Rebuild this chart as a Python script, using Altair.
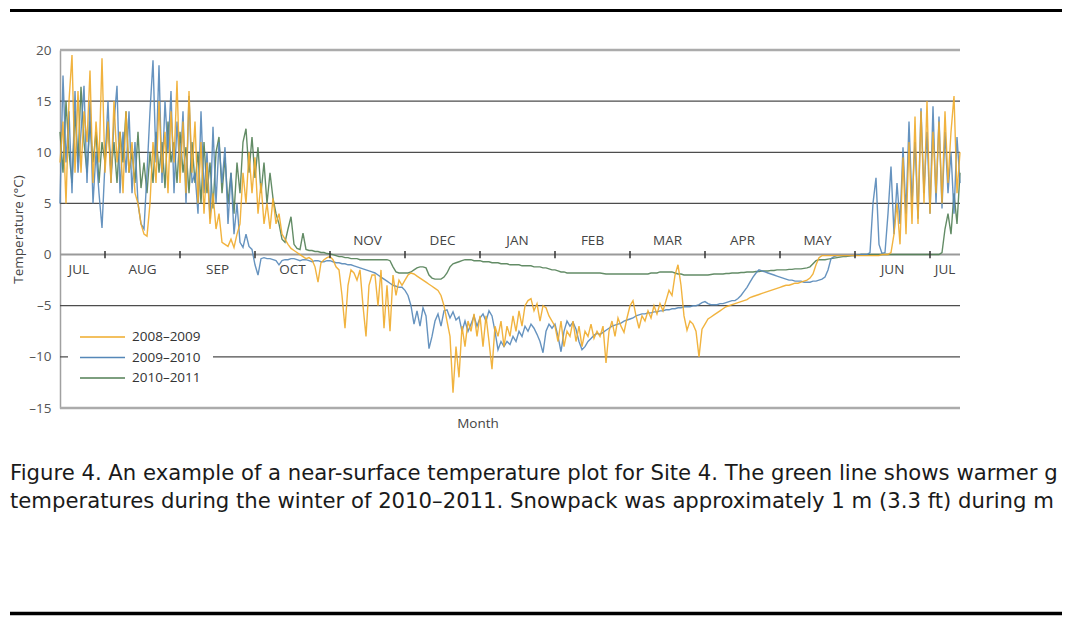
import altair as alt
import pandas as pd

SERIES = ["2008–2009", "2009–2010", "2010–2011"]
COLORS = ["#EFAB2A", "#5587B8", "#527F55"]

# readings every STEP months, first reading at START (Aug 1 = 1.0 on the month axis)
START, STEP = 0.4, 0.04

T_0809 = [
    9, 13, 5, 15, 19.5, 8, 16, 8, 14, 11, 18, 7, 13, 9, 19.2,
    8, 13, 7, 15, 9, 12, 6, 14, 8, 11, 6, 5, 3, 2, 1.8,
    5, 11, 7, 15, 8, 12, 6, 14, 9, 17, 7, 13, 6, 16, 8,
    13, 5, 11, 4, 9, 3, 6, 2.5, 4, 1.2, 1, 0.8, 1.5, 0.7, 2,
    3, 8, 5, 10, 6, 9.5, 4, 7, 3, 5, 2.5, 5.5, 3, 4, 2,
    1.5, 1, 0.6, 0.4, 0.2, 0, -0.2, -0.4, -0.3, -0.5, -1.2, -2.7, -0.8, -0.5, -0.3,
    -0.2, -0.5, -1.2, -1.5, -4, -7.2, -3, -1.5, -1.8, -2.5, -1.5, -5, -8, -3, -2,
    -2, -5, -1.5, -7.2, -3, -7.5, -2, -4, -2.5, -3, -2.5, -2, -1.8, -1.9, -2.1,
    -2.3, -2.5, -2.7, -2.9, -3.1, -3.3, -3.5, -4, -5, -6.5, -8, -13.5, -9, -12, -7,
    -9, -6.5, -7.5, -5.8, -8, -6, -9, -6, -8.5, -11.2, -7, -8, -6.5, -9, -7,
    -8, -6, -7.5, -5.5, -7, -5, -4.5, -4.3, -5.5, -4.8, -6.5, -5, -5.2, -6, -6.5,
    -7, -8.5, -6.5, -9, -7.5, -8, -6.5, -8.5, -7, -9, -7.5, -8, -6.8, -8.2, -7.5,
    -8, -7, -10.6, -7.5, -6.5, -8, -6.2, -7, -7.6, -6.2, -5, -4.5, -6, -7.2, -6,
    -6.5, -5.5, -6.2, -5, -5.8, -4.8, -5.5, -4.5, -3.5, -4, -2, -1, -3, -6, -7.4,
    -6.5, -6.8, -7.5, -10, -7.3, -6.8, -6.3, -6.1, -5.9, -5.7, -5.5, -5.3, -5.1, -5.0, -4.9,
    -4.8, -4.7, -4.6, -4.5, -4.4, -4.2, -4.1, -4.0, -3.9, -3.8, -3.7, -3.6, -3.5, -3.4, -3.3,
    -3.2, -3.1, -3.0, -3.0, -2.9, -2.8, -2.8, -2.7, -2.6, -2.5, -2.3, -1.9, -1.0, -0.3, -0.1,
    -0.1, -0.1, -0.1, -0.1, -0.1, -0.1, -0.1, -0.1, -0.1, -0.1, -0.1, -0.1, -0.1, -0.1, -0.1,
    -0.1, -0.1, -0.1, -0.1, 0, 0, 0, 0.2, 2, 5, 1, 9.5, 2, 11, 3,
    13.5, 3, 14, 5, 15, 4, 12, 6, 13, 5, 14, 7, 12, 15.5, 6,
    10,
]

T_0910 = [
    5, 17.5, 9, 14, 6, 16, 8, 12, 16.5, 7, 15, 5, 10, 6, 2.6,
    9, 15, 7, 13, 16.5, 6, 12, 8, 14, 6, 11, 5, 3, 2.5, 8,
    14, 19, 9, 18.5, 7, 15, 10, 16, 6, 13, 8, 14, 5, 15.5, 7,
    8, 4, 14, 6, 10, 3.5, 12.5, 5, 11, 7, 10.5, 3, 8, 2, 5,
    1.2, 0.7, 2, 0.8, 0.5, -1, -2, -0.4, -0.3, -0.4, -0.4, -0.5, -0.6, -1.0, -0.6,
    -0.5, -0.5, -0.4, -0.4, -0.5, -0.6, -0.5, -0.5, -0.6, -0.7, -0.6, -0.6, -0.7, -0.7, -0.6,
    -0.6, -0.7, -0.8, -0.8, -0.9, -0.9, -1.0, -1.0, -1.1, -1.2, -1.3, -1.4, -1.5, -1.6, -1.7,
    -1.8, -2.0, -2.2, -2.4, -2.6, -2.8, -3.0, -3.1, -3.2, -3.2, -3.5, -4.0, -5.0, -6.8, -5.5,
    -7, -5.2, -6, -9.2, -8, -6.5, -5.8, -7, -5.5, -5.4, -6.2, -5.6, -6.4, -6.1, -7.5,
    -6.5, -7.5, -6.8, -6, -7, -6.2, -5.8, -6.5, -5.5, -6, -7.5, -9.3, -8.5, -9, -8.5,
    -8.8, -8, -8.5, -7.5, -8, -7, -7.5, -6.8, -7.2, -7.8, -8.5, -9.6, -7.5, -6.8, -7.2,
    -6.8, -8, -9.5, -7.5, -6.5, -7, -6.6, -7.3, -8.5, -9.3, -9.0, -8.5, -8.2, -7.9, -7.7,
    -7.8, -7.6, -7.4, -7.2, -7.0, -6.9, -6.8, -6.7, -6.5, -6.4, -6.3, -6.2, -6.0, -5.9, -5.8,
    -5.8, -5.7, -5.7, -5.6, -5.6, -5.5, -5.5, -5.4, -5.4, -5.3, -5.3, -5.2, -5.2, -5.1, -5.1,
    -5.1, -5.0, -5.0, -4.9, -4.7, -4.6, -4.8, -4.9, -4.9, -4.9, -4.8, -4.8, -4.7, -4.6, -4.5,
    -4.5, -4.3, -4.0, -3.6, -3.2, -2.7, -2.2, -1.8, -1.5, -1.6, -1.7, -1.8, -1.9, -2.0, -2.1,
    -2.2, -2.3, -2.4, -2.5, -2.5, -2.6, -2.6, -2.6, -2.7, -2.7, -2.7, -2.6, -2.6, -2.5, -2.4,
    -2.2, -1.5, -0.4, -0.2, -0.1, -0.1, -0.1, -0.1, -0.1, -0.1, -0.1, -0.05, 0, 0, 0,
    0.2, 5, 7.5, 1, 0.1, 0.2, 4, 8.6, 2, 7, 3, 10.5, 4, 13, 5,
    11, 3.5, 14.3, 6, 12, 4, 14.5, 5, 13.5, 4.5, 12, 6, 10, 4, 11.5,
    7,
]

T_1011 = [
    12, 8, 15, 10, 7, 14, 9, 16.4, 11, 8, 13, 9, 12, 7, 11,
    9, 13, 8, 11, 7, 12, 9, 14, 8, 10, 7, 12, 6.5, 9, 6,
    10, 7, 12, 8, 11, 6.5, 13, 9, 11, 7, 12, 8, 10.5, 6, 11,
    7, 10, 5, 11, 6, 9, 4.5, 10, 11.5, 6, 9.5, 5, 8, 4, 9,
    6, 11, 12.3, 8, 11.5, 7.5, 10.5, 6, 9, 5, 8, 5.5, 4, 3, 1.5,
    1.2, 2.5, 3.7, 1, 0.6, 0.5, 2.1, 0.5, 0.4, 0.4, 0.3, 0.3, 0.2, 0.2, 0.1,
    0.05, 0, -0.1, -0.2, -0.2, -0.3, -0.3, -0.4, -0.4, -0.4, -0.5, -0.5, -0.5, -0.5, -0.5,
    -0.5, -0.5, -0.5, -0.5, -0.5, -0.6, -1.2, -1.7, -1.8, -1.8, -1.8, -1.8, -1.7, -1.5, -1.3,
    -1.2, -1.2, -1.3, -2.0, -2.3, -2.4, -2.4, -2.4, -2.2, -1.8, -1.2, -0.9, -0.8, -0.7, -0.6,
    -0.5, -0.5, -0.5, -0.6, -0.6, -0.6, -0.7, -0.7, -0.7, -0.8, -0.8, -0.8, -0.9, -0.9, -0.9,
    -1.0, -1.0, -1.0, -1.0, -1.1, -1.1, -1.1, -1.1, -1.2, -1.2, -1.2, -1.3, -1.3, -1.4, -1.5,
    -1.5, -1.6, -1.7, -1.7, -1.8, -1.8, -1.8, -1.8, -1.8, -1.8, -1.8, -1.8, -1.8, -1.8, -1.8,
    -1.8, -1.85, -1.9, -1.9, -1.9, -1.9, -1.9, -1.9, -1.9, -1.9, -1.9, -1.9, -1.9, -1.9, -1.9,
    -1.9, -1.9, -1.8, -1.8, -1.8, -1.7, -1.7, -1.7, -1.7, -1.7, -1.8, -1.9, -1.9, -2.0, -2.0,
    -2.0, -2.0, -2.0, -2.0, -2.0, -2.0, -2.0, -1.95, -1.9, -1.9, -1.9, -1.9, -1.85, -1.85, -1.8,
    -1.8, -1.8, -1.75, -1.75, -1.7, -1.7, -1.7, -1.65, -1.65, -1.6, -1.6, -1.6, -1.55, -1.55, -1.5,
    -1.5, -1.5, -1.5, -1.45, -1.45, -1.4, -1.4, -1.4, -1.35, -1.3, -1.2, -0.9, -0.6, -0.5, -0.5,
    -0.5, -0.45, -0.4, -0.35, -0.3, -0.25, -0.2, -0.2, -0.15, -0.1, -0.1, -0.05, 0, 0, 0,
    0, 0, 0, 0, 0, 0, 0, 0, 0, 0, 0, 0, 0, 0, 0,
    0, 0, 0, 0, 0, 0, 0, 0, 0, 0.2, 2.5, 4, 2, 6, 3,
    8,
]

MONTHS = ["JUL", "AUG", "SEP", "OCT", "NOV", "DEC", "JAN", "FEB", "MAR", "APR", "MAY", "JUN", "JUL"]
MONTH_POS = [0.65, 1.5, 2.5, 3.5, 4.5, 5.5, 6.5, 7.5, 8.5, 9.5, 10.5, 11.5, 12.2]
WINTER = ["NOV", "DEC", "JAN", "FEB", "MAR", "APR", "MAY"]
BOUNDARIES = [1, 2, 3, 4, 5, 6, 7, 8, 9, 10, 11, 12]
Y_TICKS = [-15, -10, -5, 0, 5, 10, 15, 20]
INNER_GRID = [15, 10, 5, -5, -10]
OUTER_GRID = [20, -15]

# caption as far as it is visible in the reference page
CAPTION_1 = "Figure 4. An example of a near-surface temperature plot for Site 4. The green line shows warmer g"
CAPTION_2 = "temperatures during the winter of 2010–2011. Snowpack was approximately 1 m (3.3 ft) during m"

rows = []
for name, vals in zip(SERIES, [T_0809, T_0910, T_1011]):
    for i, v in enumerate(vals):
        rows.append({"series": name, "m": START + STEP * i, "temp": v})
df = pd.DataFrame(rows)

months_df = pd.DataFrame({"label": MONTHS, "m": MONTH_POS,
                          "winter": [lab in WINTER for lab in MONTHS]})

x_scale = alt.Scale(domain=[0.4, 12.4], nice=False, zero=False)
y_scale = alt.Scale(domain=[-15, 20], nice=False, zero=False)
FONT = "Open Sans"
FS = 13.5

y_axis = alt.Axis(
    values=Y_TICKS, grid=False, ticks=False, domain=True,
    domainColor="#a0a0a0", domainWidth=1.5,
    labelFont=FONT, labelFontSize=FS, labelColor="#555555", labelPadding=9,
    labelExpr="datum.value < 0 ? '–' + abs(datum.value) : '' + datum.value",
    title="Temperature (°C)", titleFont=FONT, titleFontSize=FS,
    titleFontWeight="normal", titleColor="#444444",
    titleX=-42, titleY=179, titleAngle=270, titleAlign="center", titleBaseline="middle",
)
X_NONE = dict(scale=x_scale, axis=None)

one = pd.DataFrame({"k": [0]})

inner = alt.Chart(pd.DataFrame({"v": INNER_GRID})).mark_rule(
    color="#4d4d4d", strokeWidth=1.3).encode(y=alt.Y("v:Q", scale=y_scale, axis=y_axis))
outer = alt.Chart(pd.DataFrame({"v": OUTER_GRID})).mark_rule(
    color="#ababab", strokeWidth=2.5).encode(y=alt.Y("v:Q", scale=y_scale, axis=y_axis))
zero = alt.Chart(pd.DataFrame({"v": [0]})).mark_rule(
    color="#9a9a9a", strokeWidth=2).encode(y=alt.Y("v:Q", scale=y_scale, axis=y_axis))

legend_box = alt.Chart(one).mark_rect(color="white").encode(
    x=alt.value(8), x2=alt.value(153), y=alt.value(277), y2=alt.value(338))

base = alt.Chart(df).mark_line(strokeWidth=1.4, opacity=0.9).encode(
    x=alt.X("m:Q", **X_NONE),
    y=alt.Y("temp:Q", scale=y_scale, axis=y_axis),
    color=alt.Color("series:N", scale=alt.Scale(domain=SERIES, range=COLORS), legend=None),
)
line_layers = [base.transform_filter(alt.datum.series == s) for s in reversed(SERIES)]

ticks = alt.Chart(pd.DataFrame({"m": BOUNDARIES})).mark_rule(
    color="#333333", strokeWidth=1.5).encode(
    x=alt.X("m:Q", **X_NONE),
    y=alt.YDatum(0.36, scale=y_scale, axis=y_axis), y2=alt.datum(-0.36))

lab_below = alt.Chart(months_df).transform_filter("datum.winter == false").mark_text(
    dy=15, font=FONT, fontSize=FS, color="#444444", baseline="middle").encode(
    x=alt.X("m:Q", **X_NONE), y=alt.YDatum(0, scale=y_scale, axis=y_axis), text="label:N")
lab_above = alt.Chart(months_df).transform_filter("datum.winter == true").mark_text(
    dy=-13.5, font=FONT, fontSize=FS, color="#444444", baseline="middle").encode(
    x=alt.X("m:Q", **X_NONE), y=alt.YDatum(0, scale=y_scale, axis=y_axis), text="label:N")

legend_layers = []
for i, (name, col) in enumerate(zip(SERIES, COLORS)):
    yy = 287 + 20.5 * i
    legend_layers.append(alt.Chart(one).mark_rule(color=col, strokeWidth=1.5).encode(
        x=alt.value(20), x2=alt.value(65), y=alt.value(yy)))
    legend_layers.append(alt.Chart(pd.DataFrame({"t": [name]})).mark_text(
        align="left", baseline="middle", font=FONT, fontSize=FS, color="#333333").encode(
        x=alt.value(72), y=alt.value(yy), text="t:N"))

month_title = alt.Chart(pd.DataFrame({"t": ["Month"]})).mark_text(
    font=FONT, fontSize=FS, color="#444444", baseline="middle").encode(
    x=alt.value(418), y=alt.value(374), text="t:N")

cap1 = alt.Chart(pd.DataFrame({"t": [CAPTION_1]})).mark_text(
    align="left", baseline="alphabetic", font="DejaVu Sans", fontSize=21.2, color="#1a1a1a").encode(
    x=alt.value(-50), y=alt.value(430), text="t:N")
cap2 = alt.Chart(pd.DataFrame({"t": [CAPTION_2]})).mark_text(
    align="left", baseline="alphabetic", font="DejaVu Sans", fontSize=21.2, color="#1a1a1a").encode(
    x=alt.value(-50), y=alt.value(458), text="t:N")

top_rule = alt.Chart(one).mark_rule(color="black", strokeWidth=3).encode(
    x=alt.value(-50), x2=alt.value(1010), y=alt.value(-39.5))
bottom_rule = alt.Chart(one).mark_rule(color="black", strokeWidth=3.5).encode(
    x=alt.value(-50), x2=alt.value(1010), y=alt.value(563.5))

chart = alt.layer(
    inner, outer, zero, legend_box, *line_layers, ticks, lab_below, lab_above,
    *legend_layers, month_title, cap1, cap2, top_rule, bottom_rule,
).properties(
    width=900, height=358,
    autosize=alt.AutoSizeParams(type="none"),
    padding={"left": 52, "top": 42, "right": 102, "bottom": 209},
    background="white",
).configure_view(stroke=None)

chart.save("out.html", embed_options={"renderer": "svg", "actions": False})
